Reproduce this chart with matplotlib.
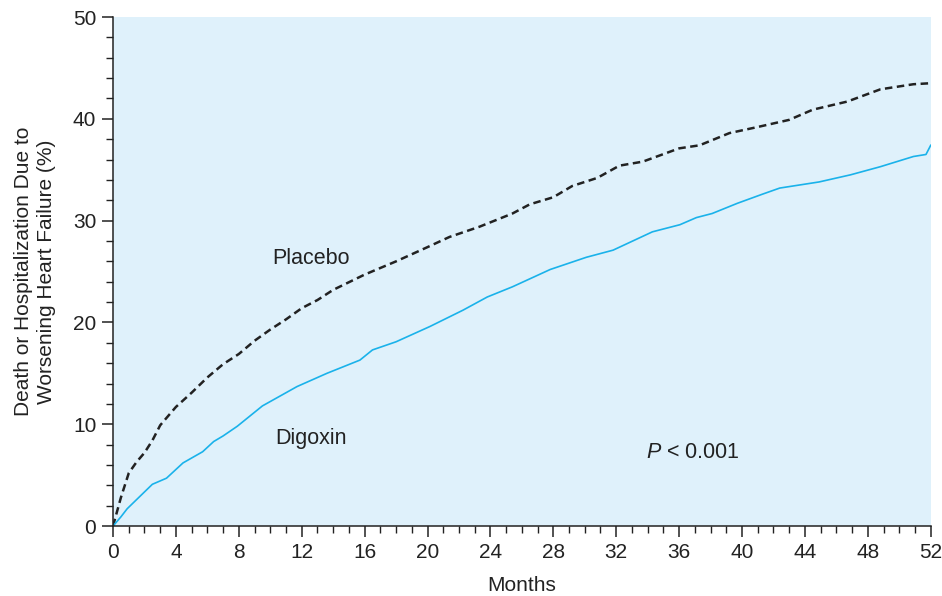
import matplotlib.pyplot as plt
from matplotlib.ticker import MultipleLocator

plt.rcParams['font.family'] = ['Liberation Sans', 'DejaVu Sans']
plt.rcParams['mathtext.fontset'] = 'custom'
plt.rcParams['mathtext.it'] = 'Liberation Sans:italic'
plt.rcParams['mathtext.rm'] = 'Liberation Sans'

# values
placebo_t = [0, 0.5, 1, 1.5, 2, 2.5, 3, 4, 5, 6, 7, 8, 9, 10, 11, 12, 13, 14, 16,
             18, 20, 21.4, 23.3, 25.4, 26.5, 28, 29.2, 30.8, 32.2, 33.7, 36, 37.3,
             39.2, 41, 43, 44.5, 46.7, 48.8, 50.9, 52]
placebo = [0, 2.8, 5.2, 6.3, 7.2, 8.4, 9.9, 11.7, 13.1, 14.6, 15.9, 16.9, 18.2,
           19.3, 20.3, 21.4, 22.2, 23.2, 24.7, 26.0, 27.4, 28.4, 29.4, 30.7,
           31.6, 32.3, 33.4, 34.2, 35.4, 35.8, 37.1, 37.4, 38.6, 39.2, 39.9,
           40.9, 41.7, 42.9, 43.4, 43.5]

digoxin_t = [0, 0.5, 0.9, 1.5, 2.5, 3.4, 4.45, 5.7, 6.4, 7.0, 7.9, 9.5, 11.7,
             13.6, 15.7, 16.5, 18, 20.15, 22.25, 23.8, 25.4, 27.8, 30.1, 31.8,
             34.3, 36.05, 37.1, 38.1, 39.7, 41.3, 42.4, 44.9, 46.9, 48.8, 50.9,
             51.7, 52]
digoxin = [0, 0.9, 1.7, 2.6, 4.1, 4.7, 6.2, 7.3, 8.3, 8.85, 9.8, 11.8, 13.7,
           15.0, 16.3, 17.3, 18.1, 19.6, 21.2, 22.5, 23.5, 25.2, 26.4, 27.1,
           28.9, 29.6, 30.3, 30.7, 31.7, 32.6, 33.2, 33.8, 34.5, 35.3, 36.3,
           36.5, 37.4]

fig = plt.figure(figsize=(9.42, 5.96), dpi=100)
ax = fig.add_axes([0.12, 0.1174, 0.868, 0.854])
ax.set_facecolor('#dff1fb')

ax.plot(placebo_t, placebo, color='#222222', lw=1.8, linestyle=(0, (3, 1.8)))
ax.plot(digoxin_t, digoxin, color='#1ab2ea', lw=1.2)

ax.set_xlim(0, 52)
ax.set_ylim(0, 50)
ax.xaxis.set_major_locator(MultipleLocator(4))
ax.xaxis.set_minor_locator(MultipleLocator(1))
ax.yaxis.set_major_locator(MultipleLocator(10))
ax.yaxis.set_minor_locator(MultipleLocator(2))
ax.tick_params(which='major', length=8, width=1.1, labelsize=15, color='#222222',
               labelcolor='#222222', pad=4)
ax.tick_params(which='minor', length=5, width=1.0, color='#222222')
for s in ['top', 'right']:
    ax.spines[s].set_visible(False)
for s in ['left', 'bottom']:
    ax.spines[s].set_linewidth(1.1)
    ax.spines[s].set_color('#222222')

ax.set_xlabel('Months', fontsize=15, labelpad=10, color='#222222')
ax.set_ylabel('Death or Hospitalization Due to\nWorsening Heart Failure (%)', fontsize=15,
              labelpad=12, color='#222222', linespacing=1.3)

ax.text(12.6, 26.3, 'Placebo', fontsize=15.5, ha='center', va='center', color='#222222')
ax.text(12.6, 8.6, 'Digoxin', fontsize=15.5, ha='center', va='center', color='#222222')
ax.text(36.9, 7.2, '$P$ < 0.001', fontsize=15.5, ha='center', va='center', color='#222222')

fig.savefig('out.png', dpi=100)
